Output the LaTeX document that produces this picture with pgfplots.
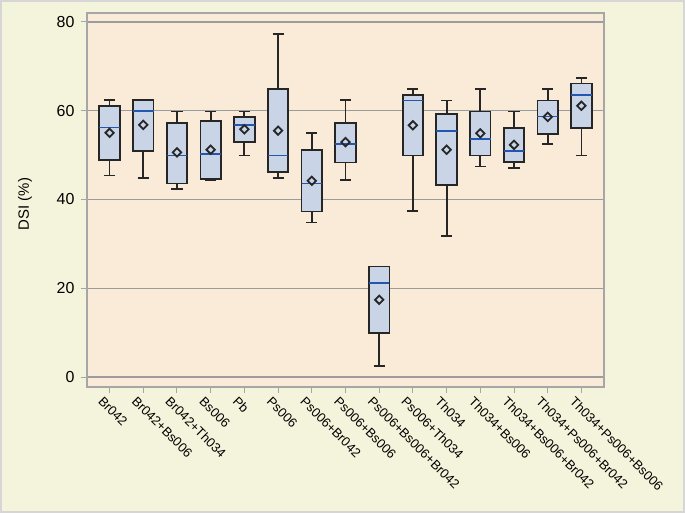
\documentclass[border=0pt]{standalone}
\usepackage{pgfplots}
\pgfplotsset{compat=1.18}
\usepgfplotslibrary{statistics}
\usepackage{fontspec}
\setmainfont{Liberation Sans}
\definecolor{outerbg}{HTML}{F4F4DC}
\definecolor{plotbg}{HTML}{FAEBD8}
\definecolor{boxfill}{HTML}{C9D5E6}
\definecolor{boxedge}{HTML}{262626}
\definecolor{medianblue}{HTML}{2456B0}
\definecolor{gridgray}{HTML}{9C9C9C}
\definecolor{framegray}{HTML}{A6A6A6}
\definecolor{bordergray}{HTML}{D6D6D6}
\pgfdeclareplotmark{rdiam}{%
  \pgfpathmoveto{\pgfqpoint{0pt}{\pgfplotmarksize}}%
  \pgfpathlineto{\pgfqpoint{\pgfplotmarksize}{0pt}}%
  \pgfpathlineto{\pgfqpoint{0pt}{-\pgfplotmarksize}}%
  \pgfpathlineto{\pgfqpoint{-\pgfplotmarksize}{0pt}}%
  \pgfpathclose
  \pgfusepathqstroke}
\pgfplotsset{bx/.style={draw=boxedge, fill=boxfill, line width=1.8bp, solid}}
\begin{document}
\begin{tikzpicture}
\fill[outerbg] (0bp,0bp) rectangle (685bp,513bp);
\draw[bordergray, line width=2bp] (1bp,1bp) rectangle (684bp,512bp);
\begin{axis}[
  at={(87bp,126bp)}, anchor=south west,
  scale only axis, width=517bp, height=374bp,
  xmin=-0.67, xmax=14.67, ymin=-2.25, ymax=82,
  axis background/.style={fill=plotbg},
  axis line style={framegray, line width=1.6bp},
  tick pos=left, tick align=outside,
  major tick length=6bp,
  every tick/.style={framegray, line width=1bp},
  xtick={0,...,14},
  xticklabels={Br042,Br042+Bs006,Br042+Th034,Bs006,Pb,Ps006,Ps006+Br042,Ps006+Bs006,Ps006+Bs006+Br042,Ps006+Th034,Th034,Th034+Bs006,Th034+Bs006+Br042,Th034+Ps006+Br042,Th034+Ps006+Bs006},
  x tick label style={rotate=-45, anchor=north west, inner sep=1bp, xshift=-3bp, yshift=-5bp, font=\fontsize{13}{15}\selectfont},
  ytick={0,20,40,60,80},
  y tick label style={font=\fontsize{16}{18}\selectfont, xshift=-3bp},
  /pgf/number format/assume math mode=true,
  ymajorgrids, grid style={gridgray, line width=1.3bp},
  every axis y label/.style={at={(axis description cs:0,0.5)}, xshift=-62bp, yshift=-4bp, rotate=90, anchor=center},
  ylabel={DSI (\%)},
  label style={font=\fontsize{15}{17}\selectfont},
  boxplot/draw direction=y,
  boxplot/box extend=0.61,
  boxplot/whisker extend=0.33,
  boxplot/every median/.style={draw=medianblue, line width=1.8bp},
  boxplot/every average/.style={/tikz/mark=rdiam, /tikz/mark size=4.2bp, /tikz/draw=black, /tikz/line width=1.4bp, /tikz/solid},
]
\addplot[bx, boxplot prepared={draw position=0, lower whisker=45.4, lower quartile=48.8, median=56.2, upper quartile=61.1, upper whisker=62.4, average=55.0}] coordinates {};
\addplot[bx, boxplot prepared={draw position=1, lower whisker=44.8, lower quartile=51.0, median=59.9, upper quartile=62.4, upper whisker=62.4, average=56.8}] coordinates {};
\addplot[bx, boxplot prepared={draw position=2, lower whisker=42.4, lower quartile=43.6, median=49.9, upper quartile=57.3, upper whisker=59.8, average=50.6}] coordinates {};
\addplot[bx, boxplot prepared={draw position=3, lower whisker=44.4, lower quartile=44.6, median=50.2, upper quartile=57.6, upper whisker=59.8, average=51.2}] coordinates {};
\addplot[bx, boxplot prepared={draw position=4, lower whisker=49.9, lower quartile=53.0, median=56.8, upper quartile=58.6, upper whisker=59.8, average=55.8}] coordinates {};
\addplot[bx, boxplot prepared={draw position=5, lower whisker=44.8, lower quartile=46.1, median=49.9, upper quartile=64.8, upper whisker=77.3, average=55.5}] coordinates {};
\addplot[bx, boxplot prepared={draw position=6, lower whisker=34.8, lower quartile=37.3, median=43.6, upper quartile=51.1, upper whisker=54.9, average=44.2}] coordinates {};
\addplot[bx, boxplot prepared={draw position=7, lower whisker=44.3, lower quartile=48.3, median=52.4, upper quartile=57.3, upper whisker=62.4, average=52.9}] coordinates {};
\addplot[bx, boxplot prepared={draw position=8, lower whisker=2.5, lower quartile=9.9, median=21.2, upper quartile=24.9, upper whisker=24.9, average=17.4}] coordinates {};
\addplot[bx, boxplot prepared={draw position=9, lower whisker=37.4, lower quartile=49.9, median=62.3, upper quartile=63.5, upper whisker=64.8, average=56.7}] coordinates {};
\addplot[bx, boxplot prepared={draw position=10, lower whisker=31.8, lower quartile=43.3, median=55.5, upper quartile=59.2, upper whisker=62.3, average=51.2}] coordinates {};
\addplot[bx, boxplot prepared={draw position=11, lower whisker=47.4, lower quartile=49.9, median=53.7, upper quartile=59.8, upper whisker=64.8, average=54.9}] coordinates {};
\addplot[bx, boxplot prepared={draw position=12, lower whisker=47.1, lower quartile=48.5, median=51.0, upper quartile=56.1, upper whisker=59.8, average=52.3}] coordinates {};
\addplot[bx, boxplot prepared={draw position=13, lower whisker=52.4, lower quartile=54.8, median=58.7, upper quartile=62.3, upper whisker=64.8, average=58.6}] coordinates {};
\addplot[bx, boxplot prepared={draw position=14, lower whisker=49.9, lower quartile=56.1, median=63.5, upper quartile=66.1, upper whisker=67.4, average=61.1}] coordinates {};
\end{axis}
\end{tikzpicture}
\end{document}
